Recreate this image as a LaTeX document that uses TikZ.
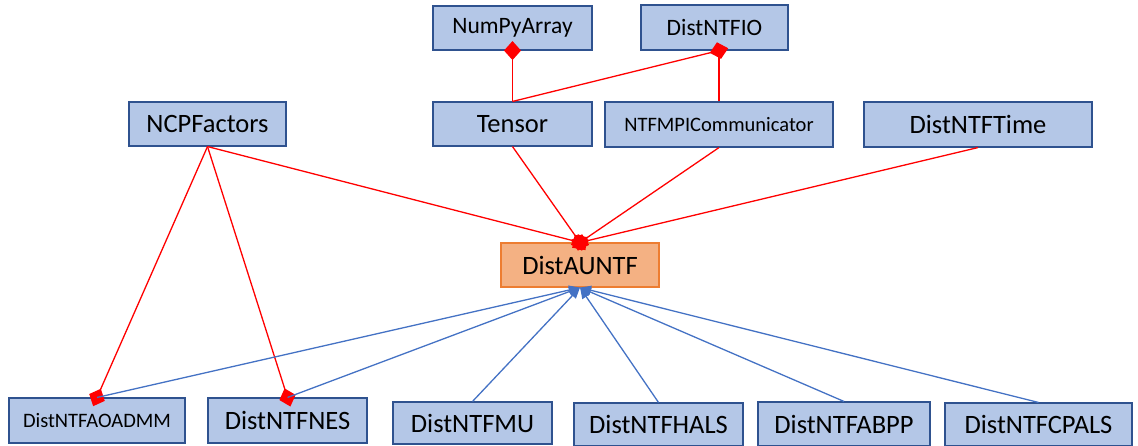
\documentclass[tikz,border=0pt]{standalone}
\usepackage{fontspec}
\setmainfont{Carlito}
\usetikzlibrary{arrows.meta}
\definecolor{boxfill}{RGB}{180,199,231}
\definecolor{boxdraw}{RGB}{47,82,143}
\definecolor{orfill}{RGB}{244,177,131}
\definecolor{ordraw}{RGB}{237,125,49}
\definecolor{bline}{RGB}{68,114,196}
\tikzset{
  cls/.style={draw=boxdraw, fill=boxfill, line width=1.1pt, rectangle, inner sep=0pt},
  main/.style={draw=ordraw, fill=orfill, line width=1.1pt, rectangle, inner sep=0pt},
  redline/.style={draw=red, line width=1.3pt},
  blueline/.style={draw=bline, line width=1.3pt},
  dtip/.style={-{Diamond[length=19pt,width=17pt,sep=-9.5pt,fill=red]}},
  ttip/.style={-{Triangle[length=11pt,width=9pt]}},
  fbig/.style={font=\fontsize{26.5}{30}\selectfont},
  fmid/.style={font=\fontsize{23.5}{28}\selectfont},
  fsmall/.style={font=\fontsize{20.5}{24}\selectfont},
}
\begin{document}
\begin{tikzpicture}[x=1pt,y=-1pt]
\useasboundingbox (0,0) rectangle (1138,445);
% top row
\node[cls,fmid,minimum width=159pt,minimum height=44pt] (npa) at (512.5,28) {NumPyArray};
\node[cls,fmid,minimum width=147pt,minimum height=45pt] (io) at (714.5,27.5) {DistNTFIO};
% second row
\node[cls,fbig,minimum width=157pt,minimum height=44pt] (ncp) at (207.5,124) {NCPFactors};
\node[cls,fbig,minimum width=159pt,minimum height=44pt] (tensor) at (512.5,124) {Tensor};
\node[cls,fsmall,minimum width=228pt,minimum height=45pt] (mpi) at (719,124.5) {NTFMPICommunicator};
\node[cls,fbig,minimum width=228pt,minimum height=45pt] (time) at (978,124.5) {DistNTFTime};
% center
\node[main,fbig,minimum width=158pt,minimum height=44pt] (aun) at (580,265) {DistAUNTF};
% bottom row
\node[cls,fsmall,minimum width=176pt,minimum height=45pt] (aoadmm) at (97,420.5) {DistNTFAOADMM};
\node[cls,fbig,minimum width=159pt,minimum height=45pt] (nes) at (287.5,420.5) {DistNTFNES};
\node[cls,fbig,minimum width=159pt,minimum height=42pt] (mu) at (472.5,423) {DistNTFMU};
\node[cls,fbig,minimum width=169pt,minimum height=43pt] (hals) at (658.5,424.5) {DistNTFHALS};
\node[cls,fbig,minimum width=172pt,minimum height=44pt] (abpp) at (844,424) {DistNTFABPP};
\node[cls,fbig,minimum width=187pt,minimum height=43pt] (cpals) at (1038.5,424.5) {DistNTFCPALS};
\coordinate (iob) at (mpi.north |- io.south);
% red composition lines
\draw[redline] (mpi.north) -- (iob);
\draw[redline,dtip] (tensor.north) -- (npa.south);
\draw[redline,dtip] (tensor.north) -- (iob);
\draw[redline,dtip] (ncp.south) -- (aun.north);
\draw[redline,dtip] (tensor.south) -- (aun.north);
\draw[redline,dtip] (mpi.south) -- (aun.north);
\draw[redline,dtip] (time.south) -- (aun.north);
\draw[redline,dtip] (ncp.south) -- (aoadmm.north);
\draw[redline,dtip] (ncp.south) -- (nes.north);
% blue inheritance lines
\draw[blueline,ttip] (aoadmm.north) -- (aun.south);
\draw[blueline,ttip] (nes.north) -- (aun.south);
\draw[blueline,ttip] (mu.north) -- (aun.south);
\draw[blueline,ttip] (hals.north) -- (aun.south);
\draw[blueline,ttip] (abpp.north) -- (aun.south);
\draw[blueline,ttip] (cpals.north) -- (aun.south);
\end{tikzpicture}
\end{document}
